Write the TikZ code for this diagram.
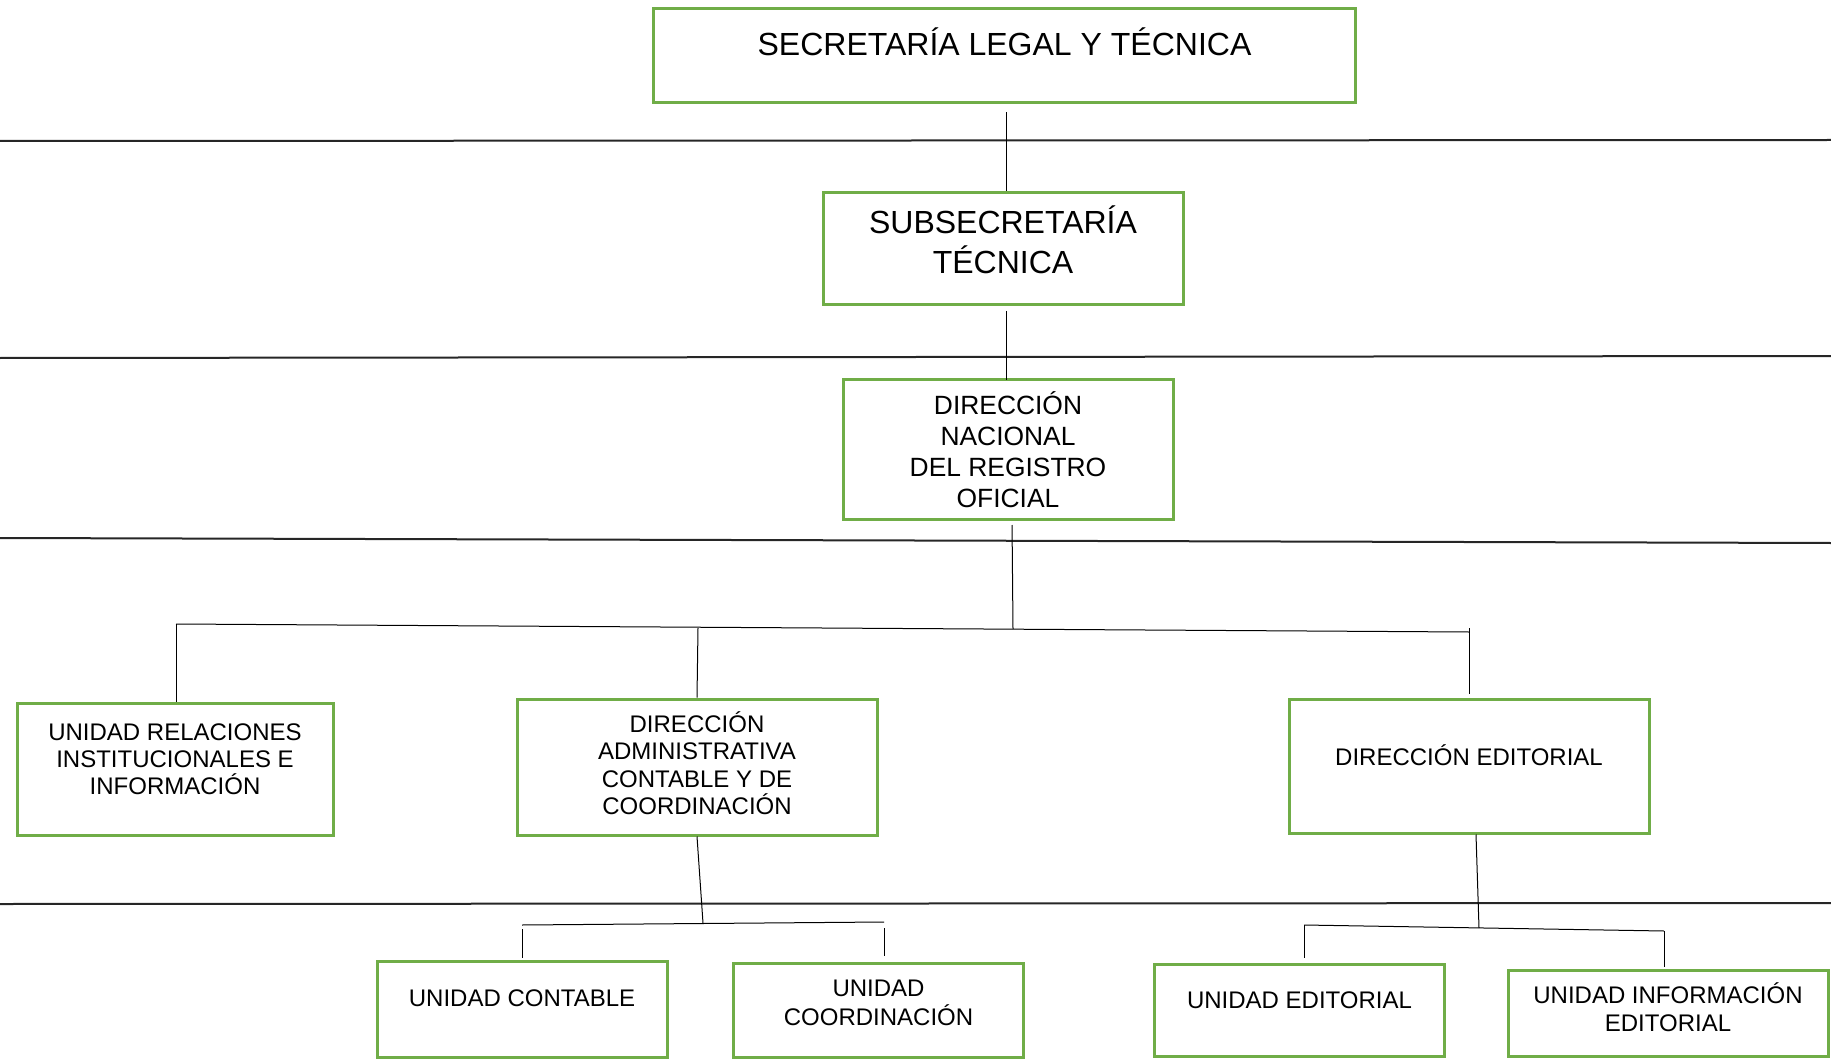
\documentclass[tikz,border=0pt]{standalone}
\usepackage{fontspec}
\setmainfont{Liberation Sans}
\usepackage{tikz}
\definecolor{boxgreen}{HTML}{70AD47}

\begin{document}
\begin{tikzpicture}[x=0.5pt,y=-0.5pt,
    orgbox/.style={draw=boxgreen, line width=1.5pt, rectangle, inner sep=0pt, align=center, font=\fontsize{12}{14}\selectfont},
    link/.style={black, line width=0.5pt},
    sepline/.style={black!85, line width=1pt}]
    \useasboundingbox (0,0) rectangle (1831,1064);

    % separators between levels
    \draw[sepline] (0,141) -- (1831,140);
    \draw[sepline] (0,358) -- (1831,356);
    \draw[sepline] (0,538) -- (1831,543);
    \draw[sepline] (0,904) -- (1831,903);

    % boxes
    \node[orgbox, minimum width=351pt, minimum height=47pt, text height=23.5pt, text depth=23.5pt, font=\fontsize{16}{20}\selectfont] (slt) at (1004.5,56) {SECRETARÍA LEGAL Y TÉCNICA};
    \node[orgbox, minimum width=180pt, minimum height=56pt, font=\fontsize{16}{20}\selectfont] (sub) at (1003,248.5) {SUBSECRETARÍA\\TÉCNICA\\[-10.7pt]};
    \node[orgbox, minimum width=165pt, minimum height=70pt, font=\fontsize{13.2}{15.5}\selectfont] (dnro) at (1008,449.5) {DIRECCIÓN\\NACIONAL\\DEL REGISTRO\\OFICIAL};
    \node[orgbox, minimum width=158pt, minimum height=66pt, font=\fontsize{12}{13.5}\selectfont] (urii) at (175,769.5) {UNIDAD RELACIONES\\INSTITUCIONALES E\\INFORMACIÓN\\[-3pt]};
    \node[orgbox, minimum width=180pt, minimum height=68pt, font=\fontsize{12}{13.8}\selectfont] (dacc) at (697,767) {DIRECCIÓN\\ADMINISTRATIVA\\CONTABLE Y DE\\COORDINACIÓN\\[-9.8pt]};
    \node[orgbox, minimum width=180pt, minimum height=67pt] (de) at (1469,766) {DIRECCIÓN EDITORIAL\\[-3.5pt]};
    \node[orgbox, minimum width=145pt, minimum height=48pt] (uc) at (522,1009) {UNIDAD CONTABLE\\[-3.5pt]};
    \node[orgbox, minimum width=145pt, minimum height=47pt, font=\fontsize{12}{14.5}\selectfont] (uco) at (878.5,1010) {UNIDAD\\COORDINACIÓN\\[-7pt]};
    \node[orgbox, minimum width=145pt, minimum height=46pt] (ue) at (1299.5,1010.5) {UNIDAD EDITORIAL\\[-3.5pt]};
    \node[orgbox, minimum width=160pt, minimum height=43pt] (uie) at (1668,1013.5) {UNIDAD INFORMACIÓN\\EDITORIAL\\[-7.7pt]};

    % bus points
    \coordinate (hub) at (1013,629);
    \coordinate (busL) at (176,624);
    \coordinate (busM) at (698,628);
    \coordinate (busR) at (1469,632);
    \coordinate (hubA) at (703,923);
    \coordinate (busAL) at (522,925);
    \coordinate (busAR) at (884,922);
    \coordinate (hubB) at (1479,928);
    \coordinate (busBL) at (1304,925);
    \coordinate (busBR) at (1664,931);

    % connectors
    \draw[link, shorten <=4pt] ([xshift=1pt]slt.south) -- ([xshift=1pt]slt.south |- sub.north);
    \draw[link, shorten <=2.5pt, shorten >=-1pt] ([xshift=1.5pt]sub.south) -- ([xshift=1.5pt]sub.south |- dnro.north);
    \draw[link, shorten <=2pt] ([xshift=2pt]dnro.south) -- (hub);
    \draw[link] (busL) -- (busR);
    \draw[link] (busL) -- (busL |- urii.north);
    \draw[link] (busM) -- (dacc.north);
    \draw[link, shorten >=2pt] ([yshift=2pt]busR) -- (busR |- de.north);

    \draw[link] (dacc.south) -- (hubA);
    \draw[link] (busAL) -- (busAR);
    \draw[link, shorten <=2pt, shorten >=1pt] (busAL) -- (busAL |- uc.north);
    \draw[link, shorten <=3pt, shorten >=3pt] (busAR) -- (busAR |- uco.north);

    \draw[link] ([xshift=3.5pt]de.south) -- (hubB);
    \draw[link] (busBL) -- (busBR);
    \draw[link, shorten >=2.5pt] (busBL) -- (busBL |- ue.north);
    \draw[link, shorten >=1pt] (busBR) -- (busBR |- uie.north);
\end{tikzpicture}
\end{document}
